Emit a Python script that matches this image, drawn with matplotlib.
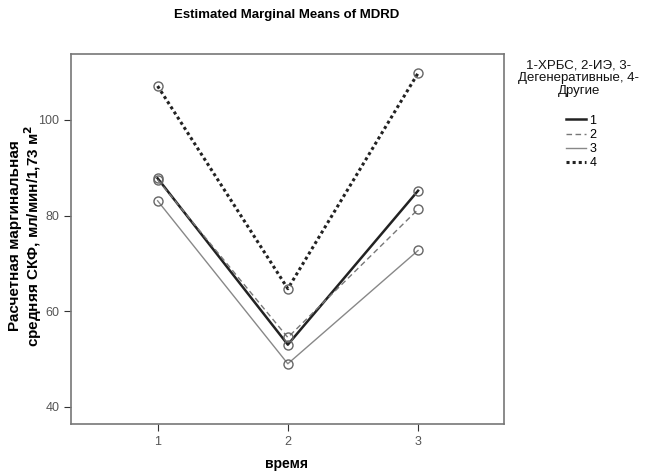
import matplotlib.pyplot as plt

plt.rcParams['font.family'] = ['Liberation Sans', 'DejaVu Sans']

# Оценённые маргинальные средние СКФ по группам
vremya = [1, 2, 3]
gruppy = ['1', '2', '3', '4']
mdrd_1 = [87.8, 53.0, 85.2]
mdrd_2 = [87.5, 54.5, 81.3]
mdrd_3 = [83.1, 49.0, 72.7]
mdrd_4 = [107.1, 64.7, 109.8]

stili = [
    dict(color='#222222', linestyle='-', linewidth=1.8),
    dict(color='#777777', linestyle=(0, (4, 2.5)), linewidth=1.0),
    dict(color='#888888', linestyle='-', linewidth=1.0),
    dict(color='#222222', linestyle=(0, (1, 1)), linewidth=2.2),
]

fig = plt.figure(figsize=(6.47, 4.74), dpi=100)
ax = fig.add_axes([71 / 647, 50 / 474, 433 / 647, 370 / 474])

linii = []
for znach, st in zip([mdrd_1, mdrd_2, mdrd_3, mdrd_4], stili):
    ln, = ax.plot(vremya, znach, **st)
    ax.plot(vremya, znach, linestyle='none', marker='o', markersize=6.5,
            markerfacecolor='none', markeredgecolor='#666666', markeredgewidth=1.0)
    linii.append(ln)

ax.set_xlim(0.335, 3.66)
ax.set_ylim(36.4, 113.8)
ax.set_xticks(vremya)
ax.set_yticks([40, 60, 80, 100])
ax.tick_params(colors='#333333', labelcolor='#555555', labelsize=9, length=5)
for s in ax.spines.values():
    s.set_color('#777777')
    s.set_linewidth(1.2)

# подписи осей и заголовок
fig.text(287 / 647, 1 - 464 / 474, 'время', ha='center', va='center',
         fontsize=10, fontweight='bold')
fig.text(15 / 647, 1 - 236 / 474, 'Расчетная маргинальная', rotation=90,
         ha='center', va='center', fontsize=11, fontweight='bold')
fig.text(33 / 647, 1 - 236 / 474, 'средняя СКФ, мл/мин/1,73 м$^\\mathbf{2}$', rotation=90,
         ha='center', va='center', fontsize=11, fontweight='bold')
fig.text(287 / 647, 1 - 15 / 474, 'Estimated Marginal Means of MDRD',
         ha='center', va='center', fontsize=9.5, fontweight='bold')

# легенда: заголовок отдельно, чтобы задать отступ до линий
fig.text(579 / 647, 1 - 60 / 474, '1-ХРБС, 2-ИЭ, 3-\nДегенеративные, 4-\nДругие',
         ha='center', va='top', fontsize=9.5, linespacing=1.05, color='#111111')
fig.legend(linii, gruppy, loc='upper center', bbox_to_anchor=(581 / 647, 1 - 106 / 474),
           frameon=False, fontsize=9, borderpad=0.2,
           handlelength=1.6, handletextpad=0.3, labelspacing=0.18)

fig.savefig('out.png', dpi=100)
